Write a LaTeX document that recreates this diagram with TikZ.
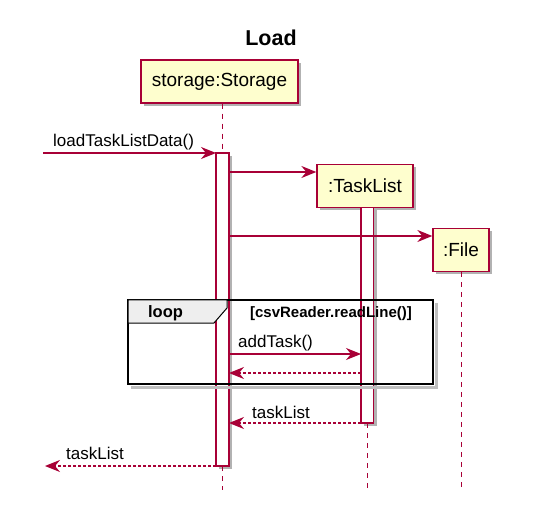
\documentclass[tikz,border=0pt]{standalone}
\usepackage{fontspec}
\setmainfont{Liberation Sans}
\usetikzlibrary{arrows.meta,shadows}
\definecolor{umlred}{HTML}{A80036}
\definecolor{umlfill}{HTML}{FEFECE}
\definecolor{loopgray}{HTML}{EEEEEE}

\begin{document}
\begin{tikzpicture}[x=1pt,y=1pt,yscale=-1,
  umlshadow/.style={drop shadow={shadow xshift=3pt,shadow yshift=-3pt,fill=black,opacity=0.3}},
  participant/.style={draw=umlred,fill=umlfill,line width=1.3pt,minimum height=43,inner sep=0pt,font=\fontsize{19}{22}\selectfont,umlshadow},
  lifeline/.style={umlred,line width=1pt,dash pattern=on 5pt off 5pt},
  activation/.style={draw=umlred,fill=white,line width=1.3pt,inner sep=0pt,outer sep=0pt,anchor=north west,umlshadow},
  msg/.style={umlred,line width=1.2pt,-{Stealth[length=15pt,width=12pt,inset=5pt]}},
  reply/.style={msg,dash pattern=on 3pt off 2pt},
  msglabel/.style={anchor=base west,inner sep=0pt,font=\fontsize{17}{20}\selectfont},
]
\useasboundingbox (0,0) rectangle (547,532);

% Title
\node[anchor=base,inner sep=0pt,font=\fontsize{21.5}{24}\selectfont\bfseries] (title) at (271,46) {Load};

%Shape: Participants
\node[participant,minimum width=157] (storage) at (219.5,81.5) {storage:Storage};
\node[participant,minimum width=96] (taskList) at (365,186) {:TaskList};
\node[participant,minimum width=56] (file) at (461,250) {:File};

%Shape: Activation bars
\node[activation,minimum width=13,minimum height=313] (actStorage) at (216,153) {};
\node[activation,minimum width=12.5,minimum height=215.5] (actTaskList) at (361,207.5) {};

%Shape: Lifelines
\draw[lifeline] (actStorage.north |- storage.south) -- (actStorage.north);
\draw[lifeline] (actStorage.south) -- (actStorage.south |- 0,490);
\draw[lifeline] (actTaskList.south) -- (actTaskList.south |- 0,490);
\draw[lifeline] (file.south) -- (file.south |- 0,490);

%Shape: Loop frame
\draw[black!25,line width=3pt] (436.5,303) -- (436.5,387.5) -- (131,387.5);
\draw[black,line width=2pt] (128,300) rectangle (433,384);
\draw[black,line width=1pt,fill=loopgray] (128,300) -- (227,300) -- (227,308) -- (214,323) -- (128,323) -- cycle;
% Text Node
\node[anchor=base,inner sep=0pt,font=\fontsize{16.5}{20}\selectfont\bfseries] (loopLbl) at (165.5,318) {loop};
% Text Node
\node[anchor=base,inner sep=0pt,font=\fontsize{15}{18}\selectfont\bfseries] (guardLbl) at (331,318) {[csvReader.readLine()]};

% Messages
\coordinate (caller) at (43,153);
\coordinate (back) at (45,466);
\coordinate (m2) at (0,172);
\coordinate (m3) at (0,236);
\coordinate (m4) at (0,354);
\coordinate (m5) at (0,373);
\coordinate (m6) at (0,423);

\draw[msg] (caller) -- (actStorage.north west);
\draw[msg] (actStorage.east |- m2) -- (taskList.west |- m2);
\draw[msg] (actStorage.east |- m3) -- (file.west |- m3);
\draw[msg] (actStorage.east |- m4) -- (actTaskList.west |- m4);
\draw[reply] (actTaskList.west |- m5) -- (actStorage.east |- m5);
\draw[reply] (actTaskList.west |- m6) -- (actStorage.east |- m6);
\draw[reply] (actStorage.south west) -- (back);

% Text Node
\node[msglabel] (lblLoad) at (53,147) {loadTaskListData()};
% Text Node
\node[msglabel] (lblAdd) at (238,348) {addTask()};
% Text Node
\node[msglabel] (lblRet) at (252,418) {taskList};
% Text Node
\node[msglabel] (lblOut) at (66,459) {taskList};

\end{tikzpicture}
\end{document}
